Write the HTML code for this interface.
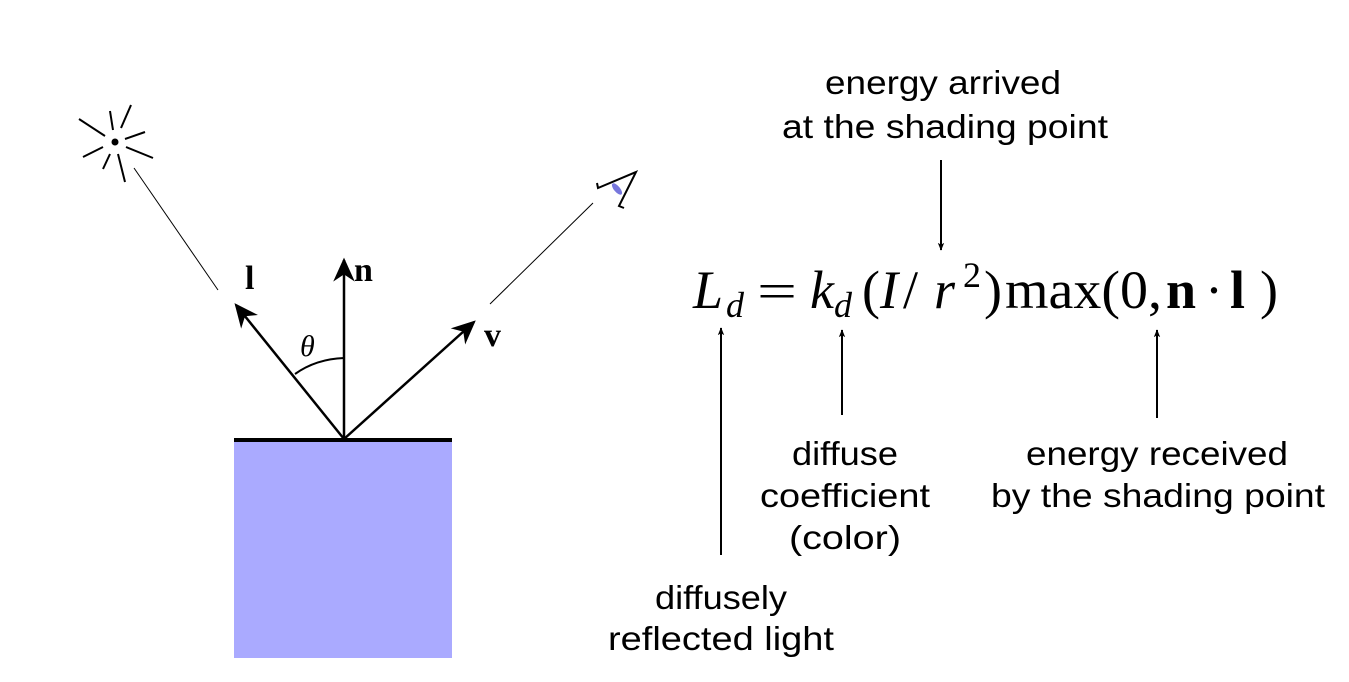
<!DOCTYPE html>
<html><head><meta charset="utf-8"><style>html,body{margin:0;padding:0;background:#fff}svg{display:block}</style></head>
<body>
<svg width="1349" height="682" viewBox="0 0 1349 682" xmlns="http://www.w3.org/2000/svg">
<defs>
<marker id="ah" viewBox="0 0 10 10" refX="9" refY="5" markerWidth="8" markerHeight="8" orient="auto" markerUnits="userSpaceOnUse"><path d="M0,1 L10,5 L0,9 L2.5,5 z" fill="#000"/></marker>
<marker id="big" viewBox="0 0 10 10" refX="9" refY="5" markerWidth="24" markerHeight="24" orient="auto" markerUnits="userSpaceOnUse"><path d="M0,0.5 L10,5 L0,9.5 L3,5 z" fill="#000"/></marker>
</defs>
<rect x="234" y="440" width="218" height="218" fill="#aaaaff"/>
<line x1="234" y1="440" x2="452" y2="440" stroke="#000" stroke-width="4"/>
<circle cx="115" cy="142" r="3.5" fill="#000"/>
<g stroke="#000" stroke-width="2">
<line x1="79" y1="119" x2="105" y2="136"/><line x1="110" y1="111" x2="113" y2="130"/>
<line x1="131" y1="105" x2="121" y2="128"/><line x1="125" y1="139" x2="145" y2="132"/>
<line x1="126" y1="147" x2="153" y2="158"/><line x1="118" y1="154" x2="125" y2="182"/>
<line x1="110" y1="154" x2="103" y2="169"/><line x1="103" y1="147" x2="83" y2="157"/>
</g>
<line x1="134" y1="168" x2="218" y2="290" stroke="#000" stroke-width="1"/>
<line x1="490" y1="304" x2="593" y2="203" stroke="#000" stroke-width="1"/>
<ellipse cx="617" cy="189" rx="3" ry="7" transform="rotate(-40 617 189)" fill="#7777dd"/>
<path d="M597,183 L598,188 L636,172 L619,206 L624,208" fill="none" stroke="#000" stroke-width="2"/>
<g stroke="#000" stroke-width="2.5" fill="none">
<line x1="344" y1="439" x2="236" y2="305" marker-end="url(#big)"/>
<line x1="344" y1="439" x2="344" y2="260" marker-end="url(#big)"/>
<line x1="344" y1="439" x2="474" y2="322" marker-end="url(#big)"/>
<path d="M295,374 Q316,359 344,358" stroke-width="2"/>
</g>
<g font-family="Liberation Serif, serif" font-size="34" font-weight="bold">
<text x="245" y="289">l</text><text x="354" y="281">n</text><text x="484" y="346">v</text>
</g>
<text x="300" y="356" font-family="Liberation Serif, serif" font-style="italic" font-size="30">θ</text>
<g font-family="Liberation Serif, serif" font-size="54" fill="#000">
<text x="693" y="308" font-style="italic">L</text>
<text x="726" y="317" font-style="italic" font-size="36">d</text>
<text x="757" y="308" font-size="50" textLength="40" lengthAdjust="spacingAndGlyphs">=</text>
<text x="810" y="308" font-style="italic">k</text>
<text x="834" y="317" font-style="italic" font-size="36">d</text>
<text x="862" y="308">(</text>
<text x="880" y="308" font-style="italic">I</text>
<text x="903" y="308">/</text>
<text x="934" y="308" font-style="italic">r</text>
<text x="963" y="287" font-size="36">2</text>
<text x="984" y="308">)</text>
<text x="1005" y="308" textLength="157" lengthAdjust="spacingAndGlyphs">max(0,</text>
<text x="1166" y="308" font-weight="bold">n</text>
<text x="1205" y="308">·</text>
<text x="1230" y="308" font-weight="bold">l</text>
<text x="1260" y="308">)</text>
</g>
<g stroke="#000" stroke-width="2">
<line x1="941" y1="160" x2="941" y2="250" marker-end="url(#ah)"/>
<line x1="721" y1="555" x2="721" y2="328" marker-end="url(#ah)"/>
<line x1="842" y1="415" x2="842" y2="330" marker-end="url(#ah)"/>
<line x1="1157" y1="418" x2="1157" y2="330" marker-end="url(#ah)"/>
</g>
<g font-family="Liberation Sans, sans-serif" font-size="33" text-anchor="middle" fill="#000">
<text x="943" y="94" textLength="236" lengthAdjust="spacingAndGlyphs">energy arrived</text>
<text x="945" y="138" textLength="326" lengthAdjust="spacingAndGlyphs">at the shading point</text>
<text x="845" y="465" textLength="106" lengthAdjust="spacingAndGlyphs">diffuse</text>
<text x="845" y="507" textLength="170" lengthAdjust="spacingAndGlyphs">coefficient</text>
<text x="845" y="549" textLength="112" lengthAdjust="spacingAndGlyphs">(color)</text>
<text x="1157" y="465" textLength="262" lengthAdjust="spacingAndGlyphs">energy received</text>
<text x="1158" y="507" textLength="334" lengthAdjust="spacingAndGlyphs">by the shading point</text>
<text x="721" y="609" textLength="132" lengthAdjust="spacingAndGlyphs">diffusely</text>
<text x="721" y="650" textLength="226" lengthAdjust="spacingAndGlyphs">reflected light</text>
</g>
</svg>
</body></html>
